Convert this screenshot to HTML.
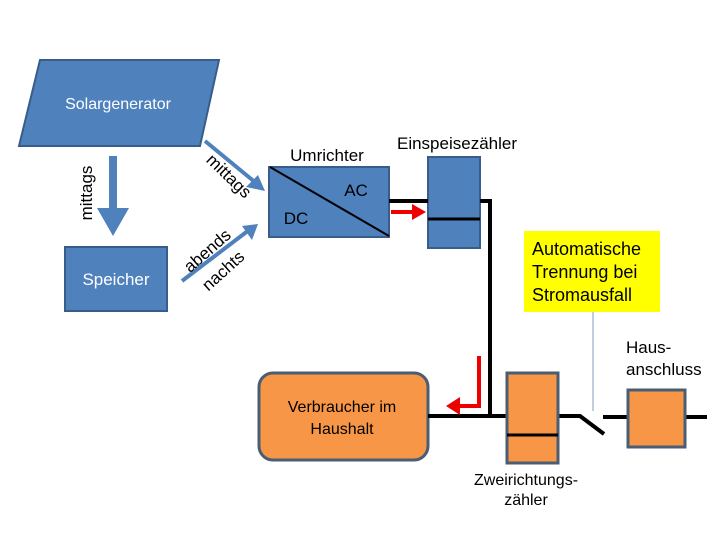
<!DOCTYPE html>
<html><head><style>
body{margin:0;background:#fff}
svg text{font-family:"Liberation Sans",sans-serif}
</style></head><body>
<svg width="720" height="540" viewBox="0 0 720 540" xmlns="http://www.w3.org/2000/svg">
<polygon points="40,60 219,60 200,146 19,146" fill="#4f81bd" stroke="#385d8a" stroke-width="2"/>
<text x="118" y="109" font-size="16" fill="#fff" text-anchor="middle">Solargenerator</text>
<rect x="65" y="247" width="102" height="64" fill="#4f81bd" stroke="#385d8a" stroke-width="2"/>
<text x="116" y="285" font-size="17" fill="#fff" text-anchor="middle">Speicher</text>
<path d="M113,156 V215" stroke="#4f81bd" stroke-width="8"/>
<polygon points="97,208 129,208 113,236" fill="#4f81bd"/>
<text transform="translate(92,193) rotate(-90)" font-size="17" text-anchor="middle">mittags</text>
<line x1="205" y1="141" x2="256" y2="183" stroke="#4f81bd" stroke-width="4"/>
<polygon points="265,191 246,187 258,175" fill="#4f81bd"/>
<line x1="182" y1="281" x2="249" y2="230" stroke="#4f81bd" stroke-width="4"/>
<polygon points="258,224 252,240 242,226" fill="#4f81bd"/>
<text transform="translate(225,180) rotate(44)" font-size="17" text-anchor="middle">mittags</text>
<text transform="translate(211,255) rotate(-41)" font-size="17" text-anchor="middle">abends</text>
<text transform="translate(227,275) rotate(-42)" font-size="17" text-anchor="middle">nachts</text>
<rect x="269" y="167" width="120" height="70" fill="#4f81bd" stroke="#385d8a" stroke-width="2"/>
<line x1="270" y1="167" x2="389" y2="236" stroke="#000" stroke-width="2"/>
<text x="356" y="196" font-size="17" text-anchor="middle">AC</text>
<text x="296" y="224" font-size="17" text-anchor="middle">DC</text>
<text x="327" y="161" font-size="17" text-anchor="middle">Umrichter</text>
<text x="457" y="149" font-size="17" text-anchor="middle">Einspeisezähler</text>
<rect x="428" y="157" width="52" height="91" fill="#4f81bd" stroke="#385d8a" stroke-width="2"/>
<line x1="428" y1="219" x2="480" y2="219" stroke="#000" stroke-width="3"/>
<path d="M389,201 H428 M480,201 H490 V417" stroke="#000" stroke-width="4" fill="none"/>
<line x1="391" y1="212" x2="414" y2="212" stroke="#e00" stroke-width="4"/>
<polygon points="426,212 412,204 412,220" fill="#e00"/>
<rect x="524" y="231" width="136" height="81" fill="#ffff00"/>
<text font-size="18" x="532" y="255">Automatische</text>
<text font-size="18" x="532" y="278">Trennung bei</text>
<text font-size="18" x="532" y="301">Stromausfall</text>
<line x1="593" y1="312" x2="593" y2="411" stroke="#7f9fbf" stroke-width="1"/>
<text font-size="17" x="626" y="353">Haus-</text>
<text font-size="17" x="626" y="375">anschluss</text>
<rect x="259" y="373" width="169" height="87" rx="14" fill="#f79646" stroke="#4a5d73" stroke-width="3"/>
<text x="342" y="412" font-size="16" text-anchor="middle">Verbraucher im</text>
<text x="342" y="434" font-size="16" text-anchor="middle">Haushalt</text>
<path d="M428,416 H507 M558,416 H580 L604,434 M603,417 H628 M685,417 H707" stroke="#000" stroke-width="4" fill="none"/>
<rect x="507" y="373" width="51" height="90" fill="#f79646" stroke="#4a5d73" stroke-width="3"/>
<line x1="507" y1="435" x2="558" y2="435" stroke="#000" stroke-width="3"/>
<rect x="628" y="390" width="57" height="57" fill="#f79646" stroke="#4a5d73" stroke-width="3"/>
<path d="M479,356 V406 H458" stroke="#e00" stroke-width="4" fill="none"/>
<polygon points="446,406 460,397 460,415" fill="#e00"/>
<text x="526" y="485" font-size="16" text-anchor="middle">Zweirichtungs-</text>
<text x="526" y="505" font-size="16" text-anchor="middle">zähler</text>
</svg>
</body></html>
